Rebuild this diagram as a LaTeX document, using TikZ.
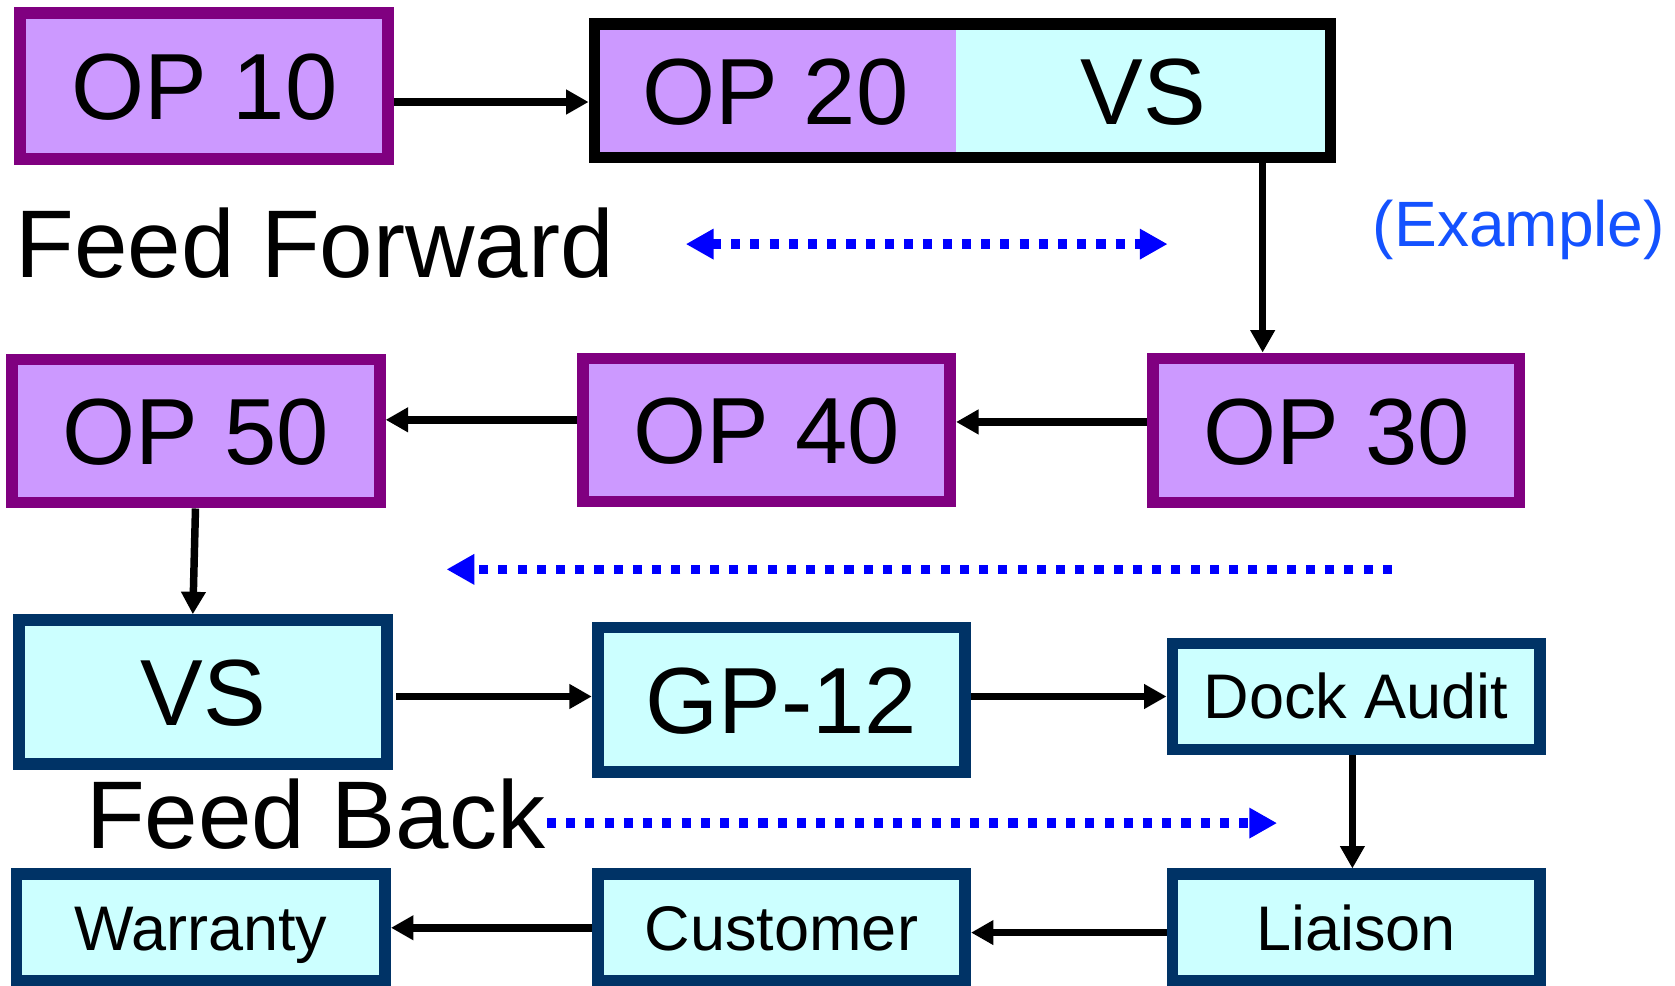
\documentclass[tikz,border=0pt]{standalone}
\usepackage{fontspec}
\setmainfont{Liberation Sans}
\usetikzlibrary{arrows.meta}

\definecolor{opfill}{HTML}{CC99FF}
\definecolor{opline}{HTML}{800080}
\definecolor{qfill}{HTML}{CCFFFF}
\definecolor{qline}{HTML}{003366}
\definecolor{flowblue}{HTML}{0000FF}
\definecolor{noteblue}{RGB}{20,82,255}

\begin{document}
\begin{tikzpicture}[x=1pt,y=-1pt,
  box/.style={line width=11pt, inner sep=0pt, text height=63pt, text depth=0pt,
    font=\fontsize{88}{90}\selectfont},
  opbox/.style={box, draw=opline, fill=opfill},
  qbox/.style={box, draw=qline, fill=qfill},
  smalltext/.style={text height=42pt, font=\fontsize{59}{60}\selectfont},
  arr/.style={line width=7pt, -{Triangle[length=21pt,width=22pt]}},
  flowhead/.tip={Triangle[length=26pt,width=27pt]},
  flow/.style={draw=flowblue, line width=9pt, dash pattern=on 8.5pt off 9.5pt},
  headline/.style={anchor=base west, inner sep=0pt, font=\fontsize{90}{92}\selectfont}
]
\useasboundingbox (0,0) rectangle (1568,923);

% row 1
\node[opbox, minimum width=344.5pt, minimum height=136pt] (op10) at (191.25,80.5) {OP 10};
\node[box, draw=none, fill=opfill, outer sep=0pt, minimum width=338.5pt, minimum height=125pt] (op20) at (725.75,85) {OP 20};
\node[box, draw=none, fill=qfill, outer sep=0pt, minimum width=350.5pt, minimum height=125pt] (vs1) at (1070.25,85) {VS};
\draw[line width=11pt] (op20.north west) rectangle (vs1.south east);

% row 2
\node[opbox, minimum width=344pt, minimum height=134pt] (op50) at (183.5,403.5) {OP 50};
\node[opbox, minimum width=344pt, minimum height=134pt] (op40) at (717.5,402.5) {OP 40};
\node[opbox, minimum width=343pt, minimum height=135pt] (op30) at (1251,403) {OP 30};

% row 3
\node[qbox, minimum width=344.5pt, minimum height=135pt] (vs2) at (190.25,648) {VS};
\node[qbox, minimum width=344pt, minimum height=135pt] (gp12) at (731.5,655) {GP-12};
\node[qbox, smalltext, minimum width=344pt, minimum height=99pt] (dock) at (1269.5,652) {Dock Audit};

% row 4
\node[qbox, smalltext, minimum width=345pt, minimum height=100pt] (warranty) at (188,868.5) {Warranty};
\node[qbox, smalltext, minimum width=344pt, minimum height=100pt] (customer) at (731.5,868.5) {Customer};
\node[qbox, smalltext, minimum width=344pt, minimum height=100pt] (liaison) at (1269.5,868.5) {Liaison};

% captions
\node[headline] (ff) at (14.3,259.5) {Feed Forward};
\node[headline] (fb) at (80.4,794) {Feed Back};
\node[anchor=base west, inner sep=0pt, text=noteblue, font=\fontsize{60}{62}\selectfont] (ex) at (1285,231) {(Example)};

% process flow
\draw[arr, shorten >=5.5pt] ([yshift=-15pt]op10.east) -- ([yshift=-10.5pt]op20.west);
\draw[arr] ([xshift=111.75pt]vs1.south) -- ([xshift=-69pt]op30.north);
\draw[arr] ([yshift=8pt]op30.west) -- ([yshift=7.5pt]op40.east);
\draw[arr] ([yshift=9.5pt]op40.west) -- ([yshift=10.5pt]op50.east);
\draw[arr] ([xshift=-0.5pt]op50.south) -- ([xshift=-9.75pt]vs2.north);
\draw[arr] ([xshift=3pt,yshift=-4pt]vs2.east) -- ([yshift=3pt]gp12.west);
\draw[arr] ([yshift=3pt]gp12.east) -- (dock.west);
\draw[arr] ([xshift=-3.5pt]dock.south) -- ([xshift=-3.5pt]liaison.north);
\draw[arr] ([yshift=-4.5pt]liaison.west) -- ([yshift=-4.5pt]customer.east);
\draw[arr] (customer.west) -- (warranty.east);

% information flow directions
\coordinate (ffL) at (642,228.5);
\coordinate (ffR) at (1093,228.5);
\coordinate (midR) at (1303,533);
\coordinate (midL) at (418,533);
\coordinate (fbL) at (512,770.5);
\coordinate (fbR) at (1195.5,770.5);
\draw[flow, flowhead-flowhead] (ffL) -- (ffR);
\draw[flow, -flowhead] (midR) -- (midL);
\draw[flow, -flowhead] (fbL) -- (fbR);
\end{tikzpicture}
\end{document}
